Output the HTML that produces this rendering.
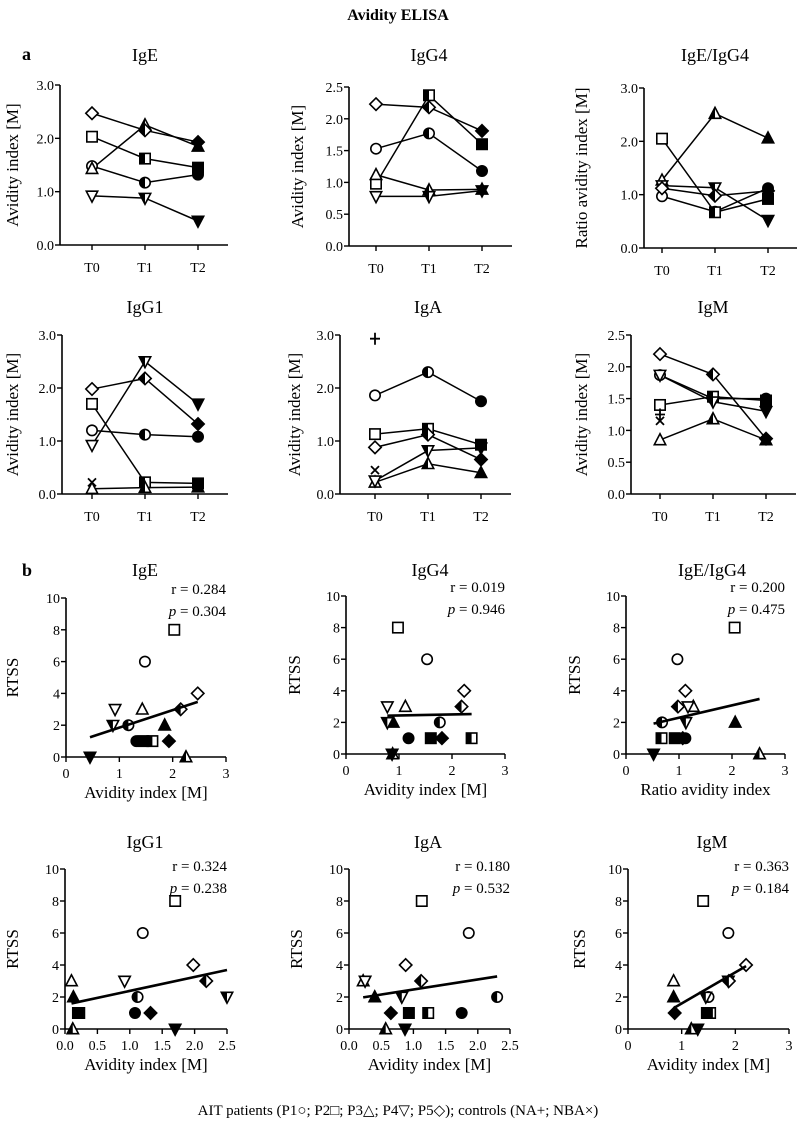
<!DOCTYPE html>
<html><head><meta charset="utf-8"><style>
html,body{margin:0;padding:0;background:#fff;}
svg{display:block;font-family:"Liberation Serif",serif;}
</style></head><body>
<svg id="fig" width="797" height="1127" viewBox="0 0 797 1127" xmlns="http://www.w3.org/2000/svg">
<text x="398" y="20" text-anchor="middle" font-size="16" font-weight="bold">Avidity ELISA</text>
<text x="22" y="60" font-size="18" font-weight="bold">a</text>
<text x="22" y="576" font-size="18" font-weight="bold">b</text>
<text x="398" y="1115" text-anchor="middle" font-size="15">AIT patients (P1○; P2□; P3△; P4▽; P5◇); controls (NA+; NBA×)</text>
</svg>
<script>
// ---- data: avidity per patient (rows P1..P5), columns T0,T1,T2 ----
const timepoints = ["T0","T1","T2"];
const patients = ["P1","P2","P3","P4","P5"];
const shapes = ["circle","square","up","down","diamond"];
const igE   = [[1.48,1.17,1.32],[2.03,1.62,1.45],[1.43,2.25,1.85],[0.92,0.88,0.45],[2.47,2.15,1.93]];
const igG4  = [[1.53,1.77,1.18],[0.98,2.37,1.60],[1.12,0.88,0.89],[0.78,0.78,0.87],[2.23,2.18,1.81]];
const ratio = [[0.97,0.68,1.12],[2.05,0.67,0.92],[1.27,2.52,2.06],[1.17,1.13,0.52],[1.12,0.98,1.07]];
const igG1  = [[1.20,1.12,1.08],[1.70,0.22,0.20],[0.10,0.12,0.13],[0.92,2.50,1.70],[1.98,2.18,1.32]];
const igA   = [[1.86,2.30,1.75],[1.13,1.23,0.93],[0.22,0.57,0.40],[0.25,0.82,0.87],[0.88,1.12,0.65]];
const igM   = [[1.87,1.50,1.50],[1.40,1.53,1.47],[0.85,1.18,0.85],[1.87,1.45,1.30],[2.20,1.88,0.87]];
const igG1NBA = [0.22];
const igANA = [2.93];
const igANBA = [0.45];
const igMNA = [1.25];
const igMNBA = [1.15];
// RTSS per patient at T0,T1,T2
const rtss = [[6,2,1],[8,1,1],[3,0,2],[3,2,0],[4,3,1]];
const stats = [["0.284","0.304"],["0.019","0.946"],["0.200","0.475"],["0.324","0.238"],["0.180","0.532"],["0.363","0.184"]];

const NS="http://www.w3.org/2000/svg";
const svg=document.getElementById('fig');
let uid=0;
function mk(tag,attrs,parent){const e=document.createElementNS(NS,tag);for(const k in attrs)e.setAttribute(k,attrs[k]);(parent||svg).appendChild(e);return e;}

function shapeEl(shape,x,y,g){
  const s=5.2;let e;
  if(shape==="circle")e=mk('circle',{cx:x,cy:y,r:s},g);
  else if(shape==="square")e=mk('rect',{x:x-s,y:y-s,width:2*s,height:2*s},g);
  else if(shape==="up")e=mk('polygon',{points:`${x},${y-s-1} ${x-s-0.5},${y+s-0.5} ${x+s+0.5},${y+s-0.5}`},g);
  else if(shape==="down")e=mk('polygon',{points:`${x},${y+s+1} ${x-s-0.5},${y-s+0.5} ${x+s+0.5},${y-s+0.5}`},g);
  else e=mk('polygon',{points:`${x},${y-s-1} ${x+s+1},${y} ${x},${y+s+1} ${x-s-1},${y}`},g);
  return e;
}
function marker(shape,fill,x,y,name){
  const g=mk('g',{});
  
  
  if(shape==="plus"){mk('path',{d:`M${x-5},${y}H${x+5}M${x},${y-6}V${y+6}`,stroke:'#000','stroke-width':1.8,fill:'none'},g);return;}
  if(shape==="cross"){mk('path',{d:`M${x-4},${y-4}L${x+4},${y+4}M${x+4},${y-4}L${x-4},${y+4}`,stroke:'#000','stroke-width':1.8,fill:'none'},g);return;}
  const base=shapeEl(shape,x,y,g);
  base.setAttribute('fill',fill==="full"?'#000':'#fff');base.setAttribute('stroke','#000');base.setAttribute('stroke-width',1.6);
  if(fill==="half"){
    const id='c'+(uid++);
    const cp=mk('clipPath',{id},g);mk('rect',{x:x-8,y:y-8,width:8,height:16},cp);
    const h=shapeEl(shape,x,y,g);h.setAttribute('fill','#000');h.setAttribute('clip-path',`url(#${id})`);
  }
}
const fills=["open","half","full"];

function axisFrame(ax,ylabel,yTicks,yfmt,ytx){
  const g=mk('g',{});
  
  
  mk('line',{x1:ax.ax,y1:ax.yTop,x2:ax.ax,y2:ax.yBot,stroke:'#000','stroke-width':1.6},g);
  mk('line',{x1:ax.ax,y1:ax.yBot,x2:ax.xEnd,y2:ax.yBot,stroke:'#000','stroke-width':1.6},g);
  yTicks.forEach(v=>{const y=ax.Y(v);
    mk('line',{x1:ax.ax-5,y1:y,x2:ax.ax,y2:y,stroke:'#000','stroke-width':1.4},g);
    const t=mk('text',{x:ax.ax-6,y:y+5,'text-anchor':'end','font-size':14},g);t.textContent=yfmt(v);});
  const yl=mk('text',{x:ytx,y:(ax.yTop+ax.yBot)/2,'text-anchor':'middle','font-size':17,transform:`rotate(-90 ${ytx} ${(ax.yTop+ax.yBot)/2})`},g);
  yl.textContent=ylabel;
  
  
}

function linePanel(p){
  const ax={name:p.name,ax:p.ax,yTop:p.yTop,yBot:p.yBot,xEnd:p.t0+2*53+30};
  ax.Y=v=>p.yBot-(v/p.ymax)*(p.yBot-p.yTop);
  const X=i=>p.t0+53*i;
  const tt=mk('text',{x:X(1),y:p.titleY,'text-anchor':'middle','font-size':18});tt.textContent=p.title;
  
  
  axisFrame(ax,p.ylabel,p.ticks,v=>v.toFixed(1),p.ylx);
  timepoints.forEach((t,i)=>{mk('line',{x1:X(i),y1:p.yBot,x2:X(i),y2:p.yBot+5,stroke:'#000','stroke-width':1.4});
    const l=mk('text',{x:X(i),y:p.yBot+27,'text-anchor':'middle','font-size':14});l.textContent=t;
    
    });
  p.data.forEach((row,k)=>{
    const pl=mk('polyline',{points:row.map((v,i)=>`${X(i)},${ax.Y(v)}`).join(' '),fill:'none',stroke:'#000','stroke-width':1.5});
    
    
  });
  p.data.forEach((row,k)=>row.forEach((v,i)=>marker(shapes[k],fills[i],X(i),ax.Y(v),p.name+'-'+patients[k]+'-'+timepoints[i])));
  (p.na||[]).forEach(v=>marker('plus','',X(0),ax.Y(v),p.name+'-NA'));
  (p.nba||[]).forEach(v=>marker('cross','',X(0),ax.Y(v),p.name+'-NBA'));
}

function scatterPanel(p,si){
  const ax={name:p.name,ax:p.x0,yTop:p.yTop,yBot:p.yBot,xEnd:p.x1};
  ax.Y=v=>p.yBot-(v/10)*(p.yBot-p.yTop);
  const X=v=>p.x0+(v/p.xmax)*(p.x1-p.x0);
  const tt=mk('text',{x:p.tx,y:p.titleY,'text-anchor':'middle','font-size':18});tt.textContent=p.title;
  
  
  axisFrame(ax,"RTSS",[0,2,4,6,8,10],v=>String(v),p.ylx);
  p.xticks.forEach(v=>{mk('line',{x1:X(v),y1:p.yBot,x2:X(v),y2:p.yBot+5,stroke:'#000','stroke-width':1.4});
    const l=mk('text',{x:X(v),y:p.yBot+21,'text-anchor':'middle','font-size':14});l.textContent=p.xfmt(v);});
  const xl=mk('text',{x:(p.x0+p.x1)/2,y:p.yBot+41,'text-anchor':'middle','font-size':17});xl.textContent=p.xlabel;
  
  
  const s1=mk('text',{x:p.x1,y:p.yTop+p.so,'text-anchor':'end','font-size':15});s1.textContent='r = '+stats[si][0];
  
  
  const s2=mk('text',{x:p.x1,y:p.yTop+p.so+22,'text-anchor':'end','font-size':15});
  const it=mk('tspan',{'font-style':'italic'},s2);it.textContent='p';
  const rest=mk('tspan',{},s2);rest.textContent=' = '+stats[si][1];
  
  
  const xs=[],ys=[];
  p.data.forEach((row,k)=>row.forEach((v,i)=>{xs.push(v);ys.push(rtss[k][i]);}));
  const n=xs.length,mx=xs.reduce((a,b)=>a+b)/n,my=ys.reduce((a,b)=>a+b)/n;
  let sxy=0,sxx=0;xs.forEach((x,i)=>{sxy+=(x-mx)*(ys[i]-my);sxx+=(x-mx)*(x-mx);});
  const b=sxy/sxx,a=my-b*mx,lo=Math.min(...xs),hi=Math.max(...xs);
  p.data.forEach((row,k)=>row.forEach((v,i)=>marker(shapes[k],fills[i],X(v),ax.Y(rtss[k][i]),p.name+'-point-'+patients[k]+'-'+timepoints[i])));
  const rl=mk('line',{x1:X(lo),y1:ax.Y(a+b*lo),x2:X(hi),y2:ax.Y(a+b*hi),stroke:'#000','stroke-width':2.6});
  
  
}

const YL="Avidity index [M]";
linePanel({name:'ige-time',title:'IgE',data:igE,ax:60,t0:92,yTop:85,yBot:245,ymax:3,ticks:[0,1,2,3],titleY:61,ylabel:YL,ylx:18});
linePanel({name:'igg4-time',title:'IgG4',data:igG4,ax:349,t0:376,yTop:87,yBot:246,ymax:2.5,ticks:[0,0.5,1,1.5,2,2.5],titleY:61,ylabel:YL,ylx:303});
linePanel({name:'ratio-time',title:'IgE/IgG4',data:ratio,ax:644,t0:662,yTop:88,yBot:248,ymax:3,ticks:[0,1,2,3],titleY:61,ylabel:'Ratio avidity index [M]',ylx:587});
linePanel({name:'igg1-time',title:'IgG1',data:igG1,nba:igG1NBA,ax:62,t0:92,yTop:335,yBot:494,ymax:3,ticks:[0,1,2,3],titleY:313,ylabel:YL,ylx:18});
linePanel({name:'iga-time',title:'IgA',data:igA,na:igANA,nba:igANBA,ax:340,t0:375,yTop:335,yBot:494,ymax:3,ticks:[0,1,2,3],titleY:313,ylabel:YL,ylx:300});
linePanel({name:'igm-time',title:'IgM',data:igM,na:igMNA,nba:igMNBA,ax:631,t0:660,yTop:335,yBot:494,ymax:2.5,ticks:[0,0.5,1,1.5,2,2.5],titleY:313,ylabel:YL,ylx:587});

const XL="Avidity index [M]";
const f0=v=>String(v), f1=v=>v.toFixed(1);
scatterPanel({name:'ige-rtss',title:'IgE',tx:145,titleY:576,data:igE,x0:66,x1:226,xmax:3,xticks:[0,1,2,3],xfmt:f0,yTop:598,yBot:757,so:-4,xlabel:XL,ylx:18},0);
scatterPanel({name:'igg4-rtss',title:'IgG4',tx:430,titleY:576,data:igG4,x0:346,x1:505,xmax:3,xticks:[0,1,2,3],xfmt:f0,yTop:596,yBot:754,so:-4,xlabel:XL,ylx:300},1);
scatterPanel({name:'ratio-rtss',title:'IgE/IgG4',tx:712,titleY:576,data:ratio,x0:626,x1:785,xmax:3,xticks:[0,1,2,3],xfmt:f0,yTop:596,yBot:754,so:-4,xlabel:'Ratio avidity index',ylx:580},2);
scatterPanel({name:'igg1-rtss',title:'IgG1',tx:145,titleY:848,data:igG1,x0:65,x1:227,xmax:2.5,xticks:[0,0.5,1,1.5,2,2.5],xfmt:f1,yTop:869,yBot:1029,so:2,xlabel:XL,ylx:18},3);
scatterPanel({name:'iga-rtss',title:'IgA',tx:428,titleY:848,data:igA,x0:349,x1:510,xmax:2.5,xticks:[0,0.5,1,1.5,2,2.5],xfmt:f1,yTop:869,yBot:1029,so:2,xlabel:XL,ylx:302},4);
scatterPanel({name:'igm-rtss',title:'IgM',tx:712,titleY:848,data:igM,x0:628,x1:789,xmax:3,xticks:[0,1,2,3],xfmt:f0,yTop:869,yBot:1029,so:2,xlabel:XL,ylx:585},5);
</script>
</body></html>
